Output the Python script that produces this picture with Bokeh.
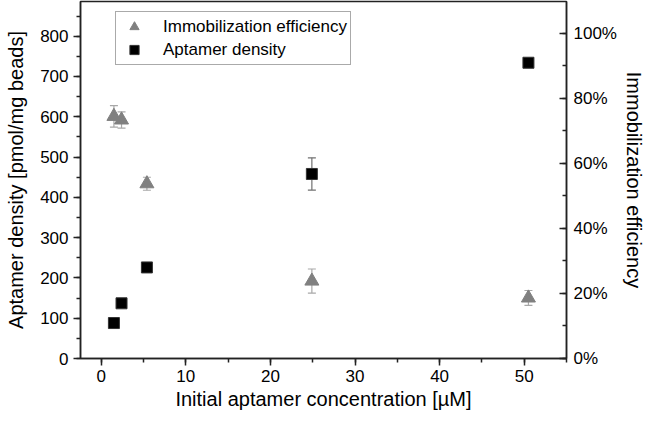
from bokeh.plotting import figure
from bokeh.models import (Range1d, LinearAxis, SingleIntervalTicker, NumeralTickFormatter,
                          Whisker, TeeHead, ColumnDataSource, Legend, LegendItem)
from bokeh.embed import file_html
from bokeh.resources import INLINE

# ---- data ----
concentration = [1.5, 2.4, 5.4, 24.9, 50.5]          # µM
aptamer_density = [88, 137, 226, 458, 734]          # pmol/mg beads
aptamer_density_err = [4, 6, 7, 40, 5]
immobilization_eff = [74.4, 73.3, 53.7, 23.8, 18.6]  # %
immobilization_eff_err = [3.3, 2.5, 2.0, 3.7, 2.3]

FONT = "Liberation Sans"

eff_frac = [v / 100 for v in immobilization_eff]
src_d = ColumnDataSource(dict(
    x=concentration, y=aptamer_density,
    lo=[v - e for v, e in zip(aptamer_density, aptamer_density_err)],
    hi=[v + e for v, e in zip(aptamer_density, aptamer_density_err)]))
src_e = ColumnDataSource(dict(
    x=concentration, y=eff_frac,
    lo=[(v - e) / 100 for v, e in zip(immobilization_eff, immobilization_eff_err)],
    hi=[(v + e) / 100 for v, e in zip(immobilization_eff, immobilization_eff_err)]))

p = figure(width=650, height=414, output_backend="svg", toolbar_location=None,
           x_range=Range1d(-2.45, 55), y_range=Range1d(0, 886),
           min_border_left=80, min_border_right=84, min_border_top=1, min_border_bottom=56)
p.extra_y_ranges = {"eff": Range1d(0, 1.097)}
p.xgrid.visible = False
p.ygrid.visible = False
p.outline_line_color = "#222222"
p.outline_line_width = 1.5
p.background_fill_color = "white"
p.border_fill_color = "white"


def style_axis(ax):
    ax.axis_line_color = "#222222"
    ax.axis_line_width = 1.5
    ax.major_tick_line_color = "#222222"
    ax.major_tick_line_width = 1.5
    ax.minor_tick_line_color = "#222222"
    ax.minor_tick_line_width = 1.5
    ax.major_label_text_font = FONT
    ax.major_label_text_font_size = "17px"
    ax.major_label_text_color = "black"
    ax.axis_label_text_font = FONT
    ax.axis_label_text_font_size = "20px"
    ax.axis_label_text_font_style = "normal"
    ax.axis_label_text_color = "black"


# bottom axis
xa = p.xaxis[0]
style_axis(xa)
xa.ticker = SingleIntervalTicker(interval=10, num_minor_ticks=2)
xa.axis_label = "Initial aptamer concentration [µM]"
xa.major_tick_out = 7
xa.major_tick_in = 0
xa.minor_tick_out = 4
xa.minor_tick_in = 0
xa.major_label_standoff = 4
xa.axis_label_standoff = 3

# left axis
ya = p.yaxis[0]
style_axis(ya)
ya.ticker = SingleIntervalTicker(interval=100, num_minor_ticks=2)
ya.axis_label = "Aptamer density [pmol/mg beads]"
ya.major_tick_out = 7
ya.major_tick_in = 0
ya.minor_tick_out = 4
ya.minor_tick_in = 0
ya.major_label_standoff = 5
ya.axis_label_standoff = 10

# right axis
ra = LinearAxis(y_range_name="eff", axis_label="Immobilization efficiency",
                ticker=SingleIntervalTicker(interval=0.2, num_minor_ticks=2),
                formatter=NumeralTickFormatter(format="0%"))
style_axis(ra)
ra.major_tick_out = 0
ra.major_tick_in = 7
ra.minor_tick_out = 0
ra.minor_tick_in = 4
ra.major_label_standoff = 7
ra.axis_label_standoff = 3
p.add_layout(ra, "right")

# error bars
w_e = Whisker(source=src_e, base="x", lower="lo", upper="hi", y_range_name="eff",
              line_color="#a8a8a8", line_width=1.2,
              lower_head=TeeHead(size=8, line_color="#a8a8a8", line_width=1.2),
              upper_head=TeeHead(size=8, line_color="#a8a8a8", line_width=1.2),
              level="underlay")
w_d = Whisker(source=src_d, base="x", lower="lo", upper="hi",
              line_color="#707070", line_width=1.2,
              lower_head=TeeHead(size=8, line_color="#707070", line_width=1.2),
              upper_head=TeeHead(size=8, line_color="#707070", line_width=1.2),
              level="underlay")
p.add_layout(w_e)
p.add_layout(w_d)

r_e = p.scatter("x", "y", source=src_e, y_range_name="eff", marker="triangle", size=14,
                fill_color="#808080", line_color="#808080")
r_d = p.scatter("x", "y", source=src_d, marker="square", size=11,
                fill_color="black", line_color="#333333")

legend = Legend(items=[LegendItem(label="Immobilization efficiency", renderers=[r_e]),
                       LegendItem(label="Aptamer density", renderers=[r_d])],
                location=(35, 293))
legend.label_text_font = FONT
legend.label_text_font_size = "17px"
legend.label_text_color = "black"
legend.glyph_width = 30
legend.glyph_height = 23
legend.label_height = 23
legend.label_standoff = 14
legend.spacing = 0
legend.padding = 3
legend.margin = 0
legend.border_line_color = "#555555"
legend.border_line_width = 1
legend.background_fill_alpha = 1
p.add_layout(legend, "center")

open("out.html", "w").write(file_html(p, INLINE))
